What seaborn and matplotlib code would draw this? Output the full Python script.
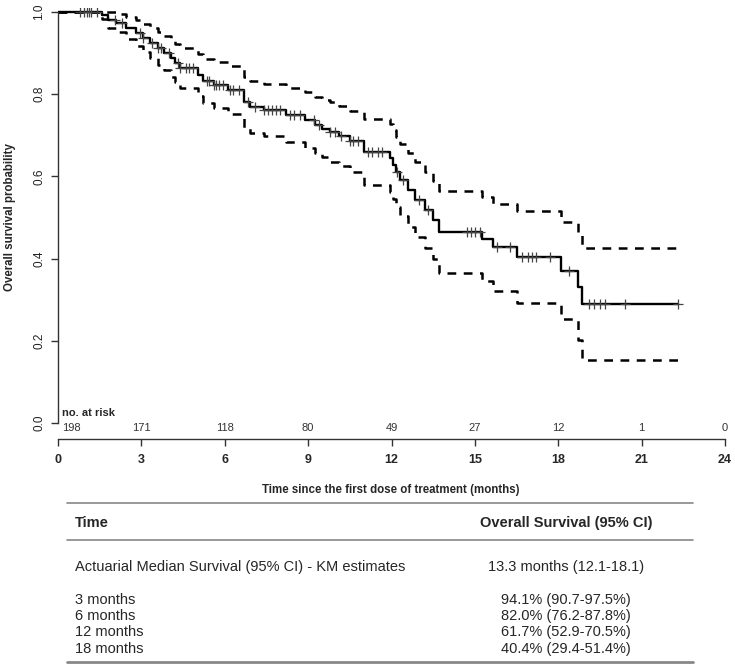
import numpy as np
import pandas as pd
import seaborn as sns
import matplotlib.pyplot as plt
from matplotlib.lines import Line2D

# Kaplan-Meier steps (months, survival) with 95% CI bounds
times = [0, 1.6, 1.8, 2.1, 2.45, 2.8, 3.05, 3.3, 3.6, 3.8, 4.05, 4.2, 4.4, 5.05, 5.2, 5.6,
         6.1, 6.7, 6.9, 7.4, 8.2, 8.9, 9.25, 9.5, 9.8, 10.1, 10.5, 11.0, 11.95, 12.05, 12.15,
         12.3, 12.6, 12.85, 13.2, 13.5, 13.7, 15.25, 15.65, 16.5, 18.1, 18.7, 18.85, 22.3]
surv = [1.000, 0.993, 0.980, 0.973, 0.961, 0.949, 0.937, 0.925, 0.912, 0.900, 0.888, 0.876,
        0.864, 0.847, 0.832, 0.822, 0.810, 0.780, 0.769, 0.762, 0.749, 0.737, 0.725, 0.716,
        0.708, 0.698, 0.685, 0.660, 0.645, 0.628, 0.611, 0.591, 0.567, 0.543, 0.518, 0.494,
        0.465, 0.448, 0.428, 0.404, 0.370, 0.331, 0.290, 0.290]
lower = [1.000, 0.983, 0.961, 0.951, 0.934, 0.918, 0.903, 0.888, 0.872, 0.858, 0.843, 0.829,
         0.816, 0.796, 0.778, 0.766, 0.752, 0.718, 0.706, 0.698, 0.683, 0.669, 0.656, 0.646,
         0.636, 0.625, 0.610, 0.580, 0.563, 0.544, 0.525, 0.503, 0.478, 0.452, 0.425, 0.399,
         0.365, 0.345, 0.322, 0.293, 0.252, 0.201, 0.153, 0.153]
upper = [1.000, 1.000, 0.999, 0.995, 0.988, 0.980, 0.971, 0.962, 0.952, 0.942, 0.933, 0.923,
         0.912, 0.898, 0.886, 0.878, 0.868, 0.842, 0.832, 0.826, 0.815, 0.805, 0.794, 0.786,
         0.780, 0.771, 0.760, 0.740, 0.727, 0.712, 0.697, 0.679, 0.656, 0.634, 0.611, 0.589,
         0.565, 0.551, 0.534, 0.515, 0.488, 0.461, 0.427, 0.427]

censored = [0.8, 0.95, 1.05, 1.1, 1.2, 1.4, 2.05, 2.3, 2.95, 3.05, 3.4, 3.6, 3.7, 4.0, 4.3,
            4.4, 4.6, 4.7, 4.85, 5.35, 5.45, 5.6, 5.7, 5.8, 5.95, 6.2, 6.3, 6.5, 6.85, 7.1,
            7.4, 7.55, 7.7, 7.85, 8.0, 8.35, 8.5, 8.7, 9.2, 9.4, 9.8, 9.95, 10.2, 10.5, 10.6,
            10.8, 11.15, 11.3, 11.5, 11.65, 12.2, 12.4, 13.0, 13.3, 14.7, 14.85, 15.0, 15.2,
            15.8, 16.25, 16.7, 16.9, 17.05, 17.2, 17.7, 18.4, 19.1, 19.3, 19.5, 19.7, 20.4, 22.3]

risk_times = [0, 3, 6, 9, 12, 15, 18, 21, 24]
at_risk = [198, 171, 118, 80, 49, 27, 12, 1, 0]

table_rows = ["Actuarial Median Survival (95% CI) - KM estimates",
              "3 months", "6 months", "12 months", "18 months"]
table_values = ["13.3 months (12.1-18.1)", "94.1% (90.7-97.5%)", "82.0% (76.2-87.8%)",
                "61.7% (52.9-70.5%)", "40.4% (29.4-51.4%)"]

sns.set_style("ticks")
plt.rcParams['font.family'] = ['Liberation Sans', 'DejaVu Sans']

km = pd.DataFrame({"time": times, "surv": surv, "lower": lower, "upper": upper})
idx = np.searchsorted(times, censored, side="right") - 1
cens = pd.DataFrame({"time": censored, "surv": np.array(surv)[idx]})

fig = plt.figure(figsize=(7.35, 6.65), dpi=100)
ax = fig.add_axes([58 / 735, 226 / 665, 667 / 735, 431 / 665])

sns.lineplot(data=km, x="time", y="surv", estimator=None, drawstyle="steps-post",
             color="black", lw=1.7, ax=ax)
for col in ["lower", "upper"]:
    sns.lineplot(data=km, x="time", y=col, estimator=None, drawstyle="steps-post",
                 color="black", lw=1.8, linestyle=(0, (3.5, 3)), ax=ax)
sns.scatterplot(data=cens, x="time", y="surv", marker="+", s=45, color="#444444",
                linewidth=0.9, ax=ax, zorder=3)

ax.set_xlim(0, 24)
ax.set_ylim(-0.0389, 1.0097)
sns.despine(ax=ax)
ax.spines["left"].set_bounds(0, 1)
ax.spines["bottom"].set_bounds(0, 24)
for sp in ["left", "bottom"]:
    ax.spines[sp].set_color("#333333")
    ax.spines[sp].set_linewidth(1.0)

ax.set_yticks([0, 0.2, 0.4, 0.6, 0.8, 1.0])
ax.set_yticklabels(["0.0", "0.2", "0.4", "0.6", "0.8", "1.0"], rotation=90, va="center",
                   fontsize=8.5, color="#222222")
ax.set_xticks(risk_times)
ax.set_xticklabels([str(t) for t in risk_times], fontsize=9, fontweight="bold")
ax.tick_params(axis="both", length=5, width=1.0, color="#333333")
ax.tick_params(axis="x", pad=6)
ax.tick_params(axis="y", pad=4)
ax.set_xlabel("")
ax.set_ylabel("")

# number at risk row
ax.text(0.15, 0.024, "no. at risk", fontsize=8, fontweight="bold", ha="left", va="center")
for t, n in zip(risk_times, at_risk):
    ax.text(t if t > 0 else 0.15, -0.013, str(n), fontsize=8, color="#333333",
            ha="center" if t > 0 else "left", va="center")

fig.text(0.0136, 0.6737, "Overall survival probability", rotation=90, fontsize=8.3,
         fontweight="bold", ha="center", va="center")
fig.text(391 / 735, 1 - 490 / 665, "Time since the first dose of treatment (months)",
         fontsize=8.3, fontweight="bold", ha="center", va="center")

# summary table below the plot
x0, x1 = 67 / 735, 693 / 735
for py, lw in [(503, 1.2), (540, 1.2), (662, 2.0)]:
    fig.add_artist(Line2D([x0, x1], [1 - py / 665] * 2, color="#888888", lw=lw))
fig.text(75 / 735, 1 - 523 / 665, "Time", fontsize=10.5, fontweight="bold", va="center")
fig.text(566 / 735, 1 - 523 / 665, "Overall Survival (95% CI)", fontsize=10.5,
         fontweight="bold", ha="center", va="center")
for py, label, val in zip([567, 600, 616, 632, 649], table_rows, table_values):
    fig.text(75 / 735, 1 - py / 665, label, fontsize=10.5, va="center")
    fig.text(566 / 735, 1 - py / 665, val, fontsize=10.5, ha="center", va="center")

fig.savefig("out.png", dpi=100)
